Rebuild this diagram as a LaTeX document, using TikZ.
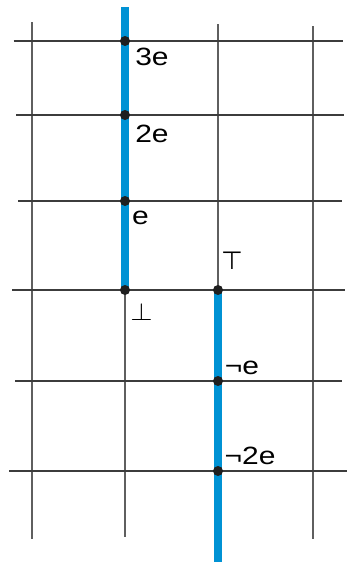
\documentclass[tikz,border=0pt]{standalone}
\usepackage{fontspec}
\setmainfont{Liberation Sans}
\newfontfamily\symfont{DejaVu Sans}
\definecolor{lineblue}{RGB}{0,146,212}
\definecolor{hgray}{RGB}{60,60,60}
\definecolor{vgray}{RGB}{95,95,95}
\begin{document}
\begin{tikzpicture}[x=1pt,y=-1pt,
  hline/.style={draw=hgray,line width=1.2pt},
  vline/.style={draw=vgray,line width=1.2pt},
  ray/.style={draw=lineblue,line width=7.5pt},
  dot/.style={circle,fill=black!88,inner sep=0pt,minimum size=10pt},
  lab/.style={inner sep=0pt,font=\fontsize{25}{29}\selectfont}]
\useasboundingbox (0,0) rectangle (347,562);
% vertical grid lines
\draw[vline] (32,22) -- (32,539);
\draw[vline] (125,20) -- (125,537);
\draw[vline] (218,24) -- (218,537);
\draw[vline] (313,26) -- (313,539);
% horizontal grid lines
\draw[hline] (13.7,41) -- (343,41);
\draw[hline] (16,115) -- (344,115);
\draw[hline] (18,201) -- (342,201);
\draw[hline] (12,290) -- (345,290);
\draw[hline] (15,381) -- (342,381);
\draw[hline] (9,471) -- (347,471);
% points
\coordinate (topend) at (125,7);
\coordinate (botend) at (218,562);
\coordinate (p3e) at (125,41);
\coordinate (p2e) at (125,115);
\coordinate (pe) at (125,201);
\coordinate (pbot) at (125,290);
\coordinate (ptop) at (218,290);
\coordinate (pne) at (218,381);
\coordinate (pn2e) at (218,471);
% blue rays
\draw[ray] (topend) -- (pbot);
\draw[ray] (ptop) -- (botend);
% dots
\foreach \n in {p3e,p2e,pe,pbot,ptop,pne,pn2e}
  \node[dot] at (\n) {};
% labels
\node[lab] (l3e) at (152,57) {\scalebox{1.2}[1]{3e}};
\node[lab] (l2e) at (152,134) {\scalebox{1.2}[1]{2e}};
\node[lab] (le) at (140.5,218) {\scalebox{1.2}[1]{e}};
\node[lab] (ltop) at (232,261) {\scalebox{1.0}[1.0]{\symfont ⊤}};
\node[lab] (lbot) at (141.5,311.5) {\scalebox{1.15}[1]{$\bot$}};
\node[lab] (lne) at (242,368) {\scalebox{1.2}[1]{¬e}};
\node[lab] (ln2e) at (250,455.5) {\scalebox{1.2}[1]{¬2e}};
\end{tikzpicture}
\end{document}
